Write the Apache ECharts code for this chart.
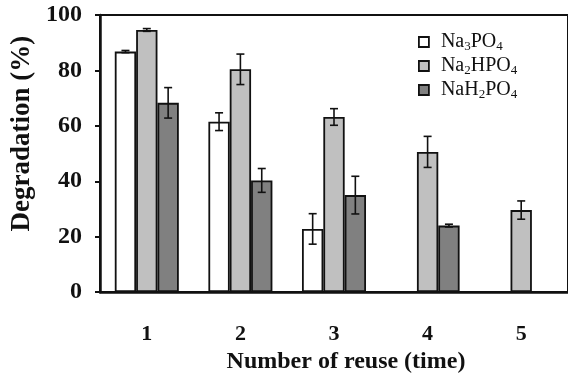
<!DOCTYPE html>
<html>
<head>
<meta charset="utf-8">
<script src="https://cdn.jsdelivr.net/npm/echarts@6/dist/echarts.min.js"></script>
<style>html,body{margin:0;padding:0;background:#fff}#c{width:568px;height:379px}</style>
</head>
<body>
<div id="c"></div>
<script>
const categories = ['1', '2', '3', '4', '5'];
const seriesNames = ['Na3PO4', 'Na2HPO4', 'NaH2PO4'];
const na3po4 = [86.8, 61.5, 22.8, null, null];
const na2hpo4 = [94.6, 80.4, 63.2, 50.6, 29.6];
const nah2po4 = [68.3, 40.3, 35.0, 24.0, null];
const na3po4Err = [0.4, 3.2, 5.5, null, null];
const na2hpo4Err = [0.5, 5.5, 3.0, 5.6, 3.3];
const nah2po4Err = [5.5, 4.3, 6.8, 0.5, null];
const yTicks = [0, 20, 40, 60, 80, 100];

const values = [na3po4, na2hpo4, nah2po4];
const errs = [na3po4Err, na2hpo4Err, nah2po4Err];
const colors = ['#ffffff', '#c0c0c0', '#808080'];
const BAR_FRAC = 0.228;
const serif = '"Liberation Serif", "Times New Roman", serif';

const errData = [];
values.forEach((arr, s) => {
  arr.forEach((v, i) => {
    if (v != null && errs[s][i] != null) errData.push([i, v, errs[s][i], s]);
  });
});

const chart = echarts.init(document.getElementById('c'), null, {renderer: 'canvas'});

const barSeries = seriesNames.map((n, s) => ({
  name: n,
  type: 'bar',
  data: values[s].map(v => v == null ? '-' : v),
  barWidth: (BAR_FRAC * 100) + '%',
  barGap: '0%',
  itemStyle: {color: colors[s], borderColor: '#111', borderWidth: 1.8},
  z: 2
}));

chart.setOption({
  animation: false,
  grid: {left: 100, right: -6, top: 15, bottom: 83, show: true, borderColor: '#111', borderWidth: 2, backgroundColor: 'transparent'},
  legend: {
    orient: 'vertical',
    left: 413, top: 27,
    itemWidth: 10, itemHeight: 10,
    itemGap: 3,
    icon: 'rect',
    itemStyle: {borderColor: '#111', borderWidth: 1.8},
    data: seriesNames,
    formatter: name => name.replace(/(\d)/g, '{s|$1}'),
    textStyle: {
      fontFamily: serif, fontSize: 20, color: '#111', padding: [0, 0, 0, 7],
      rich: {s: {fontFamily: serif, fontSize: 13, color: '#111', padding: [9, 0, 0, 0]}}
    }
  },
  xAxis: {
    type: 'category',
    data: categories,
    name: 'Number of reuse (time)',
    nameLocation: 'middle',
    nameGap: 50,
    nameTextStyle: {fontFamily: serif, fontWeight: 'bold', fontSize: 24, color: '#111', padding: [0, 0, 0, 24]},
    axisLine: {lineStyle: {color: '#111', width: 2.5}},
    axisTick: {length: 7, lineStyle: {color: '#111', width: 2}},
    axisLabel: {fontFamily: serif, fontWeight: 'bold', fontSize: 22, color: '#111', margin: 31},
    splitLine: {show: false}
  },
  yAxis: {
    type: 'value',
    min: 0, max: 100, interval: 20,
    name: 'Degradation (%)',
    nameLocation: 'middle',
    nameGap: 56,
    nameTextStyle: {fontFamily: serif, fontWeight: 'bold', fontSize: 27, color: '#111', padding: [0, 0, 0, 40]},
    axisLine: {show: true, lineStyle: {color: '#111', width: 2.5}},
    axisTick: {show: true, length: 5, lineStyle: {color: '#111', width: 2}},
    axisLabel: {fontFamily: serif, fontWeight: 'bold', fontSize: 24, color: '#111', margin: 18,
      formatter: v => yTicks.includes(v) ? String(v) : ''},
    splitLine: {show: false}
  },
  series: barSeries.concat([{
    type: 'custom',
    name: 'err',
    z: 5,
    encode: {x: 0, y: 1},
    data: errData,
    renderItem: (params, api) => {
      const x = api.value(0), y = api.value(1), e = api.value(2), s = api.value(3);
      const band = api.size([1, 0])[0];
      const off = (s - 1) * band * BAR_FRAC;
      const hi = api.coord([x, y + e]);
      const lo = api.coord([x, y - e]);
      const cx = hi[0] + off;
      const cap = 4;
      const st = {stroke: '#111', lineWidth: 1.6};
      return {
        type: 'group',
        children: [
          {type: 'line', shape: {x1: cx, y1: hi[1], x2: cx, y2: lo[1]}, style: st},
          {type: 'line', shape: {x1: cx - cap, y1: hi[1], x2: cx + cap, y2: hi[1]}, style: st},
          {type: 'line', shape: {x1: cx - cap, y1: lo[1], x2: cx + cap, y2: lo[1]}, style: st}
        ]
      };
    }
  }])
});
</script>
</body>
</html>
